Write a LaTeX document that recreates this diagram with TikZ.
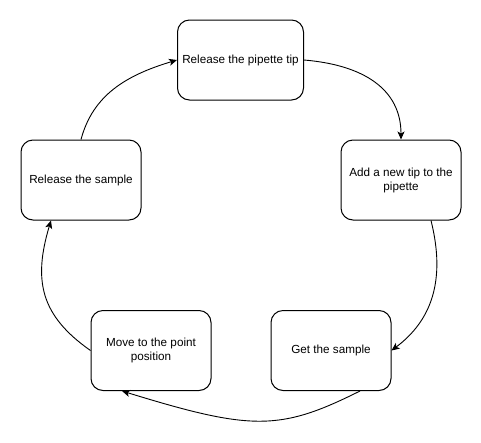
\documentclass[tikz,border=0pt]{standalone}
\usepackage{fontspec}
\setmainfont{Liberation Sans}
\usepackage{tikz}
\usetikzlibrary{arrows.meta,positioning}

\tikzset{
  stepbox/.style={draw, line width=1pt, fill=white, rounded corners=12pt,
    minimum width=120pt, minimum height=80pt, inner sep=2pt,
    text width=112pt, align=flush center, font=\fontsize{11.7}{14}\selectfont},
  flow/.style={line width=0.9pt, -{Stealth[length=8pt,width=7pt,inset=2pt]}}
}

\begin{document}
\begin{tikzpicture}[x=1pt, y=-1pt]
\useasboundingbox (0,0) rectangle (481,442);

\node[stepbox, minimum width=125pt, text width=122pt] (releasetip) at (240.5,60) {Release the pipette tip};
\node[stepbox] (addtip) at (401,180) {Add a new tip to the pipette};
\node[stepbox] (getsample) at (331,350.5) {Get the sample};
\node[stepbox] (moveto) at (151,350.5) {Move to the point position};
\node[stepbox] (releasesample) at (81,180) {Release the sample};

\draw[flow] (releasesample.north) .. controls +(12,-45) and +(-50,15) .. (releasetip.west);
\draw[flow] (releasetip.east) .. controls +(60,5) and +(0,-50) .. (addtip.north);
\draw[flow] ([xshift=30pt]addtip.south) .. controls +(15,60) and +(40,-30) .. (getsample.east);
\draw[flow] ([xshift=29pt]getsample.south) .. controls +(-80,40) and +(130,40) .. ([xshift=-29pt]moveto.south);
\draw[flow] (moveto.west) .. controls +(-50,-35) and +(-18,60) .. ([xshift=-30pt]releasesample.south);

\end{tikzpicture}
\end{document}
